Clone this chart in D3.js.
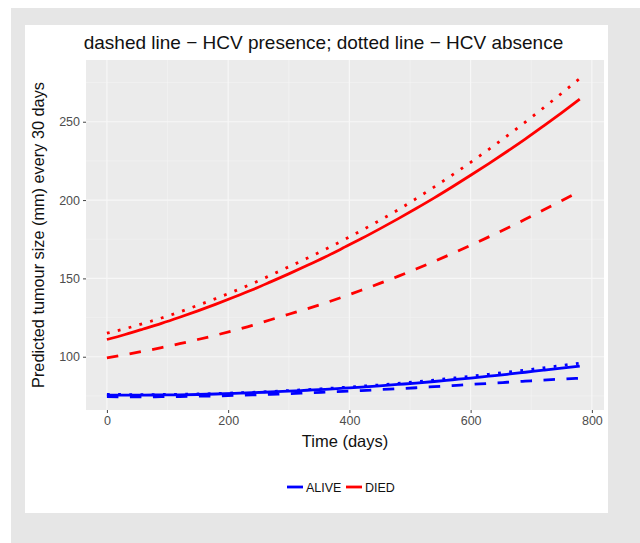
<!DOCTYPE html>
<html>
<head>
<meta charset="utf-8">
<script src="https://cdn.jsdelivr.net/npm/d3@7"></script>
<style>
  body { margin: 0; background: #fff; }
  text { font-family: "Liberation Sans", Arial, sans-serif; }
</style>
</head>
<body>
<div id="chart"></div>
<script>
// time points (days), one every 30 days
const days = [0, 30, 60, 90, 120, 150, 180, 210, 240, 270, 300, 330, 360, 390, 420,
  450, 480, 510, 540, 570, 600, 630, 660, 690, 720, 750, 780];

// DIED
const diedSolid = [111.0, 114.2, 117.7, 121.3, 125.2, 129.3, 133.6, 138.1, 142.8, 147.8, 152.9,
  158.2, 163.7, 169.5, 175.4, 181.6, 188.0, 194.6, 201.4, 208.5, 215.8, 223.3, 231.0, 238.9,
  247.2, 255.7, 264.4];
const diedDotted = [115.0, 117.9, 121.2, 124.7, 128.6, 132.8, 137.2, 141.8, 146.7, 152.0, 157.4,
  162.8, 168.5, 174.4, 180.6, 187.0, 193.7, 200.9, 208.4, 216.1, 224.1, 232.4, 240.9, 249.7,
  258.8, 268.1, 277.6];
const diedDashed = [99.3, 101.3, 103.5, 105.8, 108.3, 111.0, 113.8, 116.8, 120.0, 123.6, 127.1,
  130.6, 134.3, 138.3, 142.5, 146.8, 151.3, 156.0, 160.9, 165.9, 171.1, 176.5, 182.0, 187.7,
  193.6, 199.6, 205.6];

// ALIVE
const aliveSolid = [75.5, 75.5, 75.5, 75.6, 75.7, 75.9, 76.2, 76.6, 77.0, 77.5, 78.0, 78.6,
  79.2, 79.9, 80.6, 81.4, 82.3, 83.2, 84.2, 85.3, 86.4, 87.6, 88.8, 90.1, 91.4, 92.7, 94.0];
const aliveDotted = [76.0, 75.9, 75.8, 75.9, 76.0, 76.2, 76.5, 76.9, 77.3, 77.8, 78.4, 79.0,
  79.7, 80.4, 81.2, 82.0, 83.0, 84.0, 85.1, 86.3, 87.5, 88.8, 90.1, 91.5, 92.9, 94.4, 95.9];
const aliveDashed = [74.5, 74.4, 74.4, 74.5, 74.6, 74.8, 75.0, 75.3, 75.6, 76.0, 76.4, 76.9,
  77.4, 77.9, 78.4, 79.0, 79.6, 80.2, 80.9, 81.6, 82.3, 83.0, 83.7, 84.4, 85.1, 85.7, 86.3];

const xTicks = [0, 200, 400, 600, 800];
const yTicks = [100, 150, 200, 250];
const groups = ["ALIVE", "DIED"];
const groupColors = ["#0000ff", "#ff0000"];

const width = 640, height = 543;
const svg = d3.select("#chart").append("svg")
  .attr("width", width)
  .attr("height", height);

// grey frame and white card
svg.append("rect").attr("x", 11).attr("y", 8).attr("width", 629).attr("height", 535).attr("fill", "#e6e6e6");
svg.append("rect").attr("x", 25).attr("y", 25).attr("width", 583).attr("height", 488).attr("fill", "#fff");

const x = d3.scaleLinear().domain([-34.5, 820]).range([86, 604]);
const y = d3.scaleLinear().domain([66, 289.4]).range([410, 60]);
const color = d3.scaleOrdinal().domain(groups).range(groupColors);

// panel
svg.append("rect")
  .attr("x", x.range()[0]).attr("y", y.range()[1])
  .attr("width", x.range()[1] - x.range()[0])
  .attr("height", y.range()[0] - y.range()[1])
  .attr("fill", "#ebebeb");

const grid = svg.append("g");
const xMinor = [100, 300, 500, 700];
const yMinor = [75, 125, 175, 225, 275];
grid.selectAll(".xminor").data(xMinor).join("line")
  .attr("x1", d => x(d)).attr("x2", d => x(d))
  .attr("y1", y.range()[0]).attr("y2", y.range()[1])
  .attr("stroke", "#f3f3f3").attr("stroke-width", 0.6);
grid.selectAll(".yminor").data(yMinor).join("line")
  .attr("y1", d => y(d)).attr("y2", d => y(d))
  .attr("x1", x.range()[0]).attr("x2", x.range()[1])
  .attr("stroke", "#f3f3f3").attr("stroke-width", 0.6);
grid.selectAll(".xmajor").data(xTicks).join("line")
  .attr("x1", d => x(d)).attr("x2", d => x(d))
  .attr("y1", y.range()[0]).attr("y2", y.range()[1])
  .attr("stroke", "#f7f7f7").attr("stroke-width", 1.2);
grid.selectAll(".ymajor").data(yTicks).join("line")
  .attr("y1", d => y(d)).attr("y2", d => y(d))
  .attr("x1", x.range()[0]).attr("x2", x.range()[1])
  .attr("stroke", "#f7f7f7").attr("stroke-width", 1.2);

// axes
const xAxis = svg.append("g")
  .attr("transform", `translate(0,${y.range()[0]})`)
  .call(d3.axisBottom(x).tickValues(xTicks).tickSize(3).tickPadding(3));
const yAxis = svg.append("g")
  .attr("transform", `translate(${x.range()[0]},0)`)
  .call(d3.axisLeft(y).tickValues(yTicks).tickSize(3).tickPadding(3));
[xAxis, yAxis].forEach(a => {
  a.select(".domain").remove();
  a.selectAll(".tick line").attr("stroke", "#444");
  a.selectAll(".tick text").attr("fill", "#4d4d4d").style("font-size", "12.5px")
    .style("font-family", "Liberation Sans, Arial, sans-serif");
});

// lines
const series = [
  { group: "ALIVE", values: aliveDashed, dash: "11.5,11.5" },
  { group: "ALIVE", values: aliveDotted, dash: "2.8,8.4" },
  { group: "ALIVE", values: aliveSolid, dash: null },
  { group: "DIED", values: diedDashed, dash: "11.5,11.5" },
  { group: "DIED", values: diedDotted, dash: "2.8,8.4" },
  { group: "DIED", values: diedSolid, dash: null }
];
const line = d3.line().x((d, i) => x(days[i])).y(d => y(d)).curve(d3.curveMonotoneX);
svg.append("g").selectAll("path").data(series).join("path")
  .attr("d", d => line(d.values))
  .attr("fill", "none")
  .attr("stroke", d => color(d.group))
  .attr("stroke-width", 2.8)
  .attr("stroke-dasharray", d => d.dash);

// titles
svg.append("text")
  .attr("x", 323.5).attr("y", 49)
  .attr("text-anchor", "middle")
  .style("font-size", "19px")
  .attr("fill", "#111")
  .text("dashed line \u2212 HCV presence; dotted line \u2212 HCV absence");

svg.append("text")
  .attr("transform", "translate(44,235) rotate(-90)")
  .attr("text-anchor", "middle")
  .style("font-size", "16.3px")
  .attr("fill", "#111")
  .text("Predicted tumour size (mm) every 30 days");

svg.append("text")
  .attr("x", 345).attr("y", 447)
  .attr("text-anchor", "middle")
  .style("font-size", "16.5px")
  .attr("fill", "#111")
  .text("Time (days)");

// legend
const legend = svg.append("g").attr("transform", "translate(287,487)");
const legendX = [0, 59];
const items = legend.selectAll("g").data(groups).join("g")
  .attr("transform", (d, i) => `translate(${legendX[i]},0)`);
items.append("line")
  .attr("x1", 0).attr("x2", 16)
  .attr("stroke", d => color(d)).attr("stroke-width", 2.8);
items.append("text")
  .attr("x", 19).attr("y", 4.5)
  .style("font-size", "12.5px")
  .attr("fill", "#111")
  .text(d => d);
</script>
</body>
</html>
